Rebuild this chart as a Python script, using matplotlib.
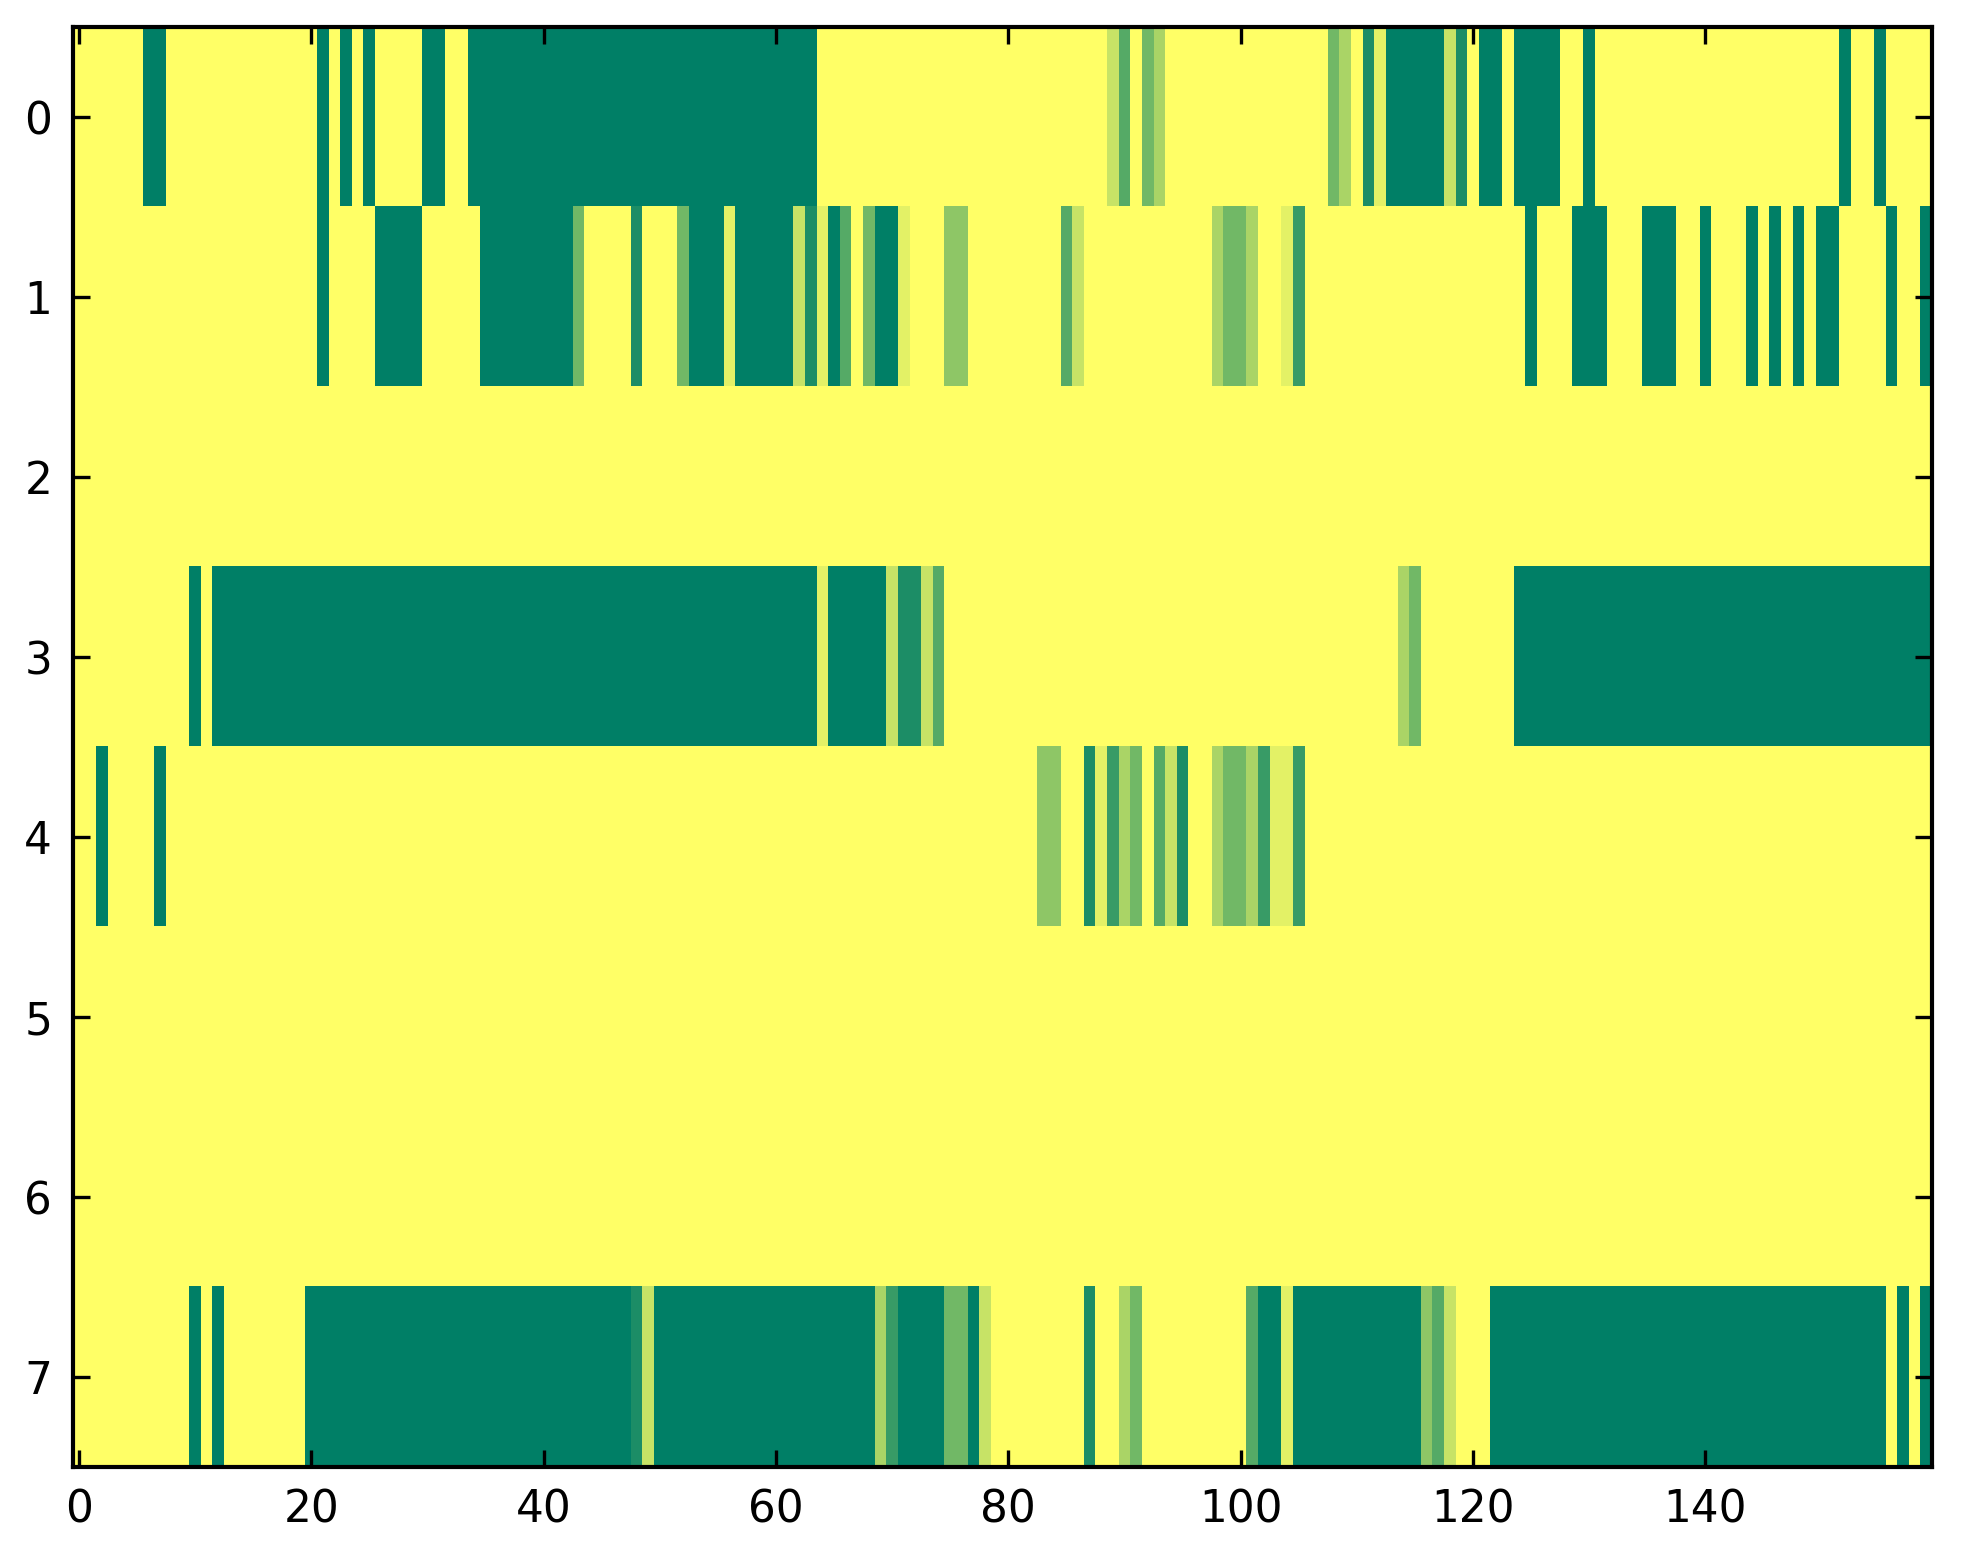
import numpy as np
import matplotlib
matplotlib.use("Agg")
import matplotlib.pyplot as plt

# each row as (value, run length) pairs, 160 columns
ROW_0 = [(0, 6), (9, 2), (0, 13), (9, 1), (0, 1), (9, 1), (0, 1), (9, 1), (0, 4), (9, 2),
         (0, 2), (9, 30), (0, 25), (2, 1), (6, 1), (0, 1), (5, 1), (3, 1), (0, 14), (5, 1),
         (3, 1), (0, 1), (8, 1), (1, 1), (9, 5), (2, 1), (8, 1), (0, 1), (9, 2), (0, 1),
         (9, 4), (0, 2), (9, 1), (0, 21), (9, 1), (0, 2), (9, 1), (0, 4)]
ROW_1 = [(0, 21), (9, 1), (0, 4), (9, 4), (0, 5), (9, 8), (5, 1), (0, 4), (8, 1), (0, 3),
         (5, 1), (9, 3), (1, 1), (9, 5), (2, 1), (8, 1), (1, 1), (9, 1), (6, 1), (0, 1),
         (5, 1), (9, 2), (1, 1), (0, 3), (4, 2), (0, 8), (6, 1), (2, 1), (0, 11), (3, 1),
         (5, 2), (3, 1), (0, 2), (1, 1), (7, 1), (0, 19), (9, 1), (0, 3), (9, 3), (0, 3),
         (9, 3), (0, 2), (9, 1), (0, 3), (9, 1), (0, 1), (9, 1), (0, 1), (9, 1), (0, 1),
         (9, 2), (0, 4), (9, 1), (0, 2), (9, 1)]
ROW_2 = [(0, 160)]
ROW_3 = [(0, 10), (9, 1), (0, 1), (9, 52), (1, 1), (9, 5), (2, 1), (8, 2), (2, 1), (6, 1),
         (0, 39), (3, 1), (5, 1), (0, 8), (9, 36)]
ROW_4 = [(0, 2), (9, 1), (0, 4), (9, 1), (0, 75), (4, 2), (0, 2), (8, 1), (1, 1), (7, 1),
         (3, 1), (5, 1), (0, 1), (6, 1), (2, 1), (8, 1), (0, 2), (3, 1), (5, 2), (3, 1),
         (7, 1), (1, 2), (7, 1), (0, 54)]
ROW_5 = [(0, 160)]
ROW_6 = [(0, 160)]
ROW_7 = [(0, 10), (9, 1), (0, 1), (9, 1), (0, 7), (9, 28), (8, 1), (2, 1), (9, 19), (3, 1),
         (7, 1), (9, 4), (5, 2), (9, 1), (2, 1), (0, 8), (8, 1), (0, 2), (3, 1), (5, 1),
         (0, 9), (6, 1), (9, 2), (1, 1), (9, 11), (4, 1), (6, 1), (2, 1), (0, 3), (9, 34),
         (0, 1), (9, 1), (0, 1), (9, 1)]

ROWS = [ROW_0, ROW_1, ROW_2, ROW_3, ROW_4, ROW_5, ROW_6, ROW_7]
XTICKS = [0, 20, 40, 60, 80, 100, 120, 140]
YTICKS = list(range(8))


def expand(runs):
    vals = np.repeat([v for v, _ in runs], [n for _, n in runs])
    assert len(vals) == 160, len(vals)
    return vals


data = np.vstack([expand(r) for r in ROWS])

W, H, DPI = 1963, 1564, 300
fig = plt.figure(figsize=(W / DPI, H / DPI), dpi=DPI, facecolor="white")
ax = fig.add_axes([73 / W, (H - 1467.5) / H, (1932 - 73) / W, (1467.5 - 27.5) / H])

ax.imshow(data, cmap="summer_r", vmin=0, vmax=9, interpolation="nearest",
          aspect="auto")
ax.set_xticks(XTICKS)
ax.set_yticks(YTICKS)
ax.tick_params(direction="in", length=4, width=0.8, top=True, right=True,
               labelsize=10.5, pad=5)
for sp in ax.spines.values():
    sp.set_linewidth(1.0)

fig.savefig("out.png", dpi=DPI, facecolor="white")
